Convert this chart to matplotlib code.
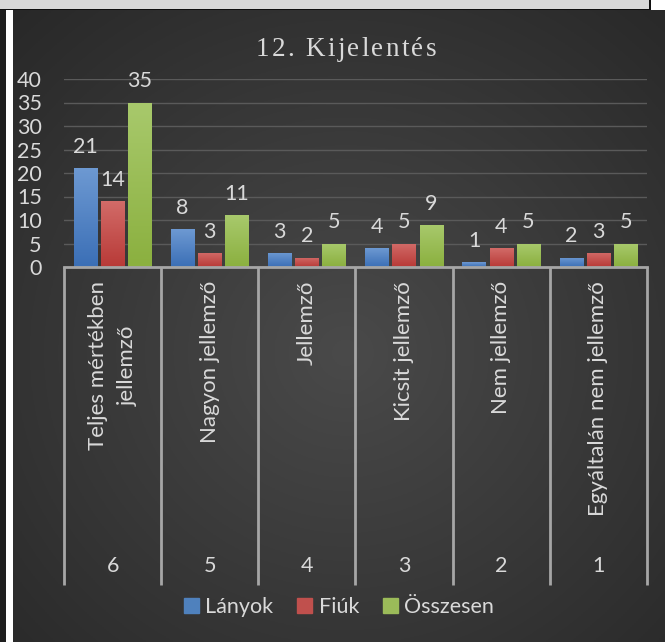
import numpy as np
import matplotlib
matplotlib.use("Agg")
import matplotlib.pyplot as plt
from matplotlib.patches import Rectangle

# Data
categories = ["Teljes mértékben\njellemző", "Nagyon jellemző", "Jellemző",
              "Kicsit jellemző", "Nem jellemző", "Egyáltalán nem jellemző"]
codes = ["6", "5", "4", "3", "2", "1"]
series_names = ["Lányok", "Fiúk", "Összesen"]
lanyok = [21, 8, 3, 4, 1, 2]
fiuk = [14, 3, 2, 5, 4, 3]
osszesen = [35, 11, 5, 9, 5, 5]
title = "12. Kijelentés"

plt.rcParams["font.family"] = ["Lato", "DejaVu Sans"]
txt_color = "#d9d9d9"
fs = 15.5
# (top colour, bottom colour) for the gradient fill of each series
bar_colors = [("#6d99d2", "#3b6fb6"), ("#d26b68", "#b83a37"), ("#a8c96c", "#8bb03f")]
legend_colors = ["#4f81bd", "#c0504d", "#9bbb59"]

fig = plt.figure(figsize=(6.65, 6.42), dpi=100)

# radial dark background
bg = fig.add_axes([0, 0, 1, 1], zorder=-10)
yy, xx = np.mgrid[0:1:300j, 0:1:300j]
r = np.sqrt((xx - 0.52) ** 2 + (yy - 0.45) ** 2) / 0.72
shade = np.clip(0.29 - 0.13 * r, 0.15, 0.3)
bg.imshow(np.dstack([shade] * 3), extent=[0, 1, 0, 1], aspect="auto", origin="lower")
bg.set_xlim(0, 1)
bg.set_ylim(0, 1)
bg.axis("off")

# frame pieces around the chart area (screenshot edges)
W, H = 665, 642
def px_rect(x0, y0, x1, y1, color):
    bg.add_patch(Rectangle((x0 / W, 1 - y1 / H), (x1 - x0) / W, (y1 - y0) / H,
                           color=color, lw=0, transform=bg.transAxes))
px_rect(0, 0, 665, 10, "white")
px_rect(0, 0, 651, 10, "#111111")
px_rect(0, 0, 649, 9, "#d9d9d9")
px_rect(0, 10, 6, 642, "#1e1e1e")
px_rect(6, 10, 13, 642, "white")

ax = fig.add_axes([64 / W, 1 - 267 / H, 583 / W, 188 / H])
ax.set_facecolor("none")
x = np.arange(len(categories))
width = 0.24
offset = 0.28

for k, vals in enumerate([lanyok, fiuk, osszesen]):
    bars = ax.bar(x + (k - 1) * offset, vals, width, color="none", zorder=3)
    top, bot = [np.array(matplotlib.colors.to_rgb(c)) for c in bar_colors[k]]
    grad = np.linspace(0, 1, 64)[:, None, None]
    img = top * (1 - grad) + bot * grad
    for b, v in zip(bars, vals):
        im = ax.imshow(img, extent=[b.get_x(), b.get_x() + b.get_width(), 0, v],
                       aspect="auto", zorder=3)
        im.set_clip_path(b)
        ax.annotate(str(v), (b.get_x() + b.get_width() / 2, v), xytext=(0, 8),
                    textcoords="offset points", ha="center", va="bottom",
                    color=txt_color, fontsize=fs)

ax.set_xlim(-0.5, len(categories) - 0.5)
ax.set_ylim(0, 40)
ax.set_yticks(range(0, 41, 5))
ax.yaxis.grid(True, color="#5a5a5a", lw=1)
ax.set_axisbelow(True)
ax.tick_params(axis="y", length=0, pad=16, labelsize=fs, labelcolor=txt_color)
ax.set_xticks([])
for s in ax.spines.values():
    s.set_visible(False)

# multi-level category axis
trans = ax.get_xaxis_transform()
line_c = "#a6a6a6"
ax.plot([-0.5, len(categories) - 0.5], [0, 0], color=line_c, lw=2, transform=trans,
        clip_on=False, zorder=4)
ax.vlines(np.arange(len(categories) + 1) - 0.5, -318 / 188, 0, color=line_c, lw=2,
          transform=trans, clip_on=False)
for i, (c, n) in enumerate(zip(categories, codes)):
    ax.text(i, -14 / 188, c, rotation=90, ha="center", va="top", color=txt_color,
            fontsize=16, transform=trans, linespacing=1.6)
    ax.text(i, -299 / 188, n, ha="center", va="center", color=txt_color,
            fontsize=fs, transform=trans)

# letter-spaced serif title
renderer = fig.canvas.get_renderer()
pieces = []
for ch in title:
    t = fig.text(0, 1 - 50 / H, ch, ha="left", va="center",
                 family="Liberation Serif", fontsize=19.5, color=txt_color)
    pieces.append((t, t.get_window_extent(renderer).width))
spacing = 2.3
total = sum(w for _, w in pieces) + spacing * (len(pieces) - 1)
xpos = 346 - total / 2
for t, w in pieces:
    t.set_x(xpos / W)
    xpos += w + spacing

handles = [Rectangle((0, 0), 1, 1, color=c) for c in legend_colors]
fig.legend(handles, series_names, loc="center", bbox_to_anchor=(0.51, 1 - 607 / H),
           ncol=3, frameon=False, fontsize=fs, labelcolor=txt_color,
           handlelength=0.7, handleheight=0.7, handletextpad=0.3, columnspacing=1.1)

fig.savefig("out.png", dpi=100)
